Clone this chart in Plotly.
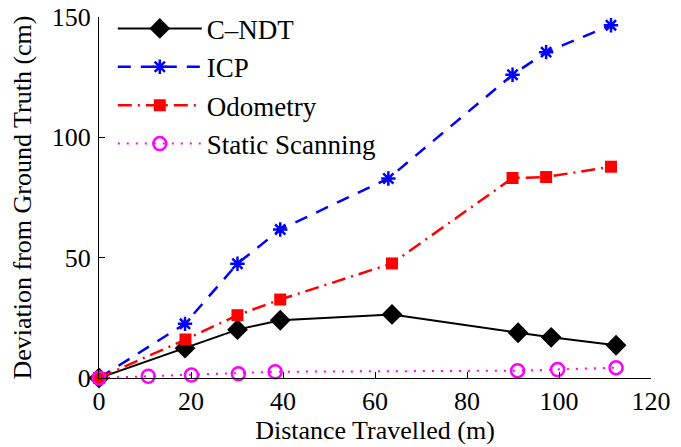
import plotly.graph_objects as go

cndt_x = [0, 18.7, 30.1, 39.4, 63.7, 91.1, 98.3, 112.4]
cndt_y = [0, 12.4, 20.1, 24.0, 26.4, 18.8, 16.9, 13.6]

icp_x = [0, 18.7, 30.1, 39.4, 62.9, 89.9, 97.2, 111.3]
icp_y = [0, 22.5, 47.5, 61.7, 82.9, 126.0, 135.4, 146.6]

odo_x = [0, 18.8, 30.1, 39.4, 63.7, 89.9, 97.2, 111.3]
odo_y = [0, 16.0, 26.1, 32.6, 47.6, 83.1, 83.5, 87.8]

static_x = [0, 10.7, 20.1, 30.3, 38.3, 91.0, 99.7, 112.4]
static_y = [0, 0.7, 1.25, 1.8, 2.6, 3.05, 3.5, 4.3]

x_ticks = [0, 20, 40, 60, 80, 100, 120]
y_ticks = [0, 50, 100, 150]

FONT = "Liberation Serif, Times New Roman, serif"
FS = 26

fig = go.Figure()
fig.add_trace(go.Scatter(
    x=cndt_x, y=cndt_y, name="C\u2013NDT", mode="lines+markers",
    legendgroup="a",
    line=dict(color="black", width=2),
    marker=dict(symbol="diamond", size=16, color="black"),
    cliponaxis=False))
fig.add_trace(go.Scatter(
    x=icp_x, y=icp_y, name="ICP", mode="lines+markers",
    legendgroup="b",
    line=dict(color="#0000ff", width=2.5, dash="13px,10px"),
    marker=dict(symbol="asterisk-open", size=12, color="#0000ff",
                line=dict(color="#0000ff", width=2.5)),
    cliponaxis=False))
fig.add_trace(go.Scatter(
    x=odo_x, y=odo_y, name="Odometry", mode="lines+markers",
    legendgroup="c",
    line=dict(color="#ff0000", width=2.5, dash="14px,6px,2px,6px"),
    marker=dict(symbol="square", size=12, color="#ff0000"),
    cliponaxis=False))
fig.add_trace(go.Scatter(
    x=static_x, y=static_y, name="Static Scanning", mode="lines+markers",
    legendgroup="d",
    line=dict(color="#ff00ff", width=2, dash="2px,7px"),
    marker=dict(symbol="circle-open", size=13, color="#ff00ff",
                line=dict(color="#ff00ff", width=2.5)),
    cliponaxis=False))

fig.update_layout(
    width=681, height=447,
    margin=dict(l=99, r=30, t=17, b=69, autoexpand=False),
    paper_bgcolor="white", plot_bgcolor="white",
    font=dict(family=FONT, size=FS, color="black"),
    showlegend=True,
    legend=dict(x=0.025, y=1.035, xanchor="left", yanchor="top",
                bgcolor="rgba(0,0,0,0)", borderwidth=0,
                traceorder="grouped",
                font=dict(family=FONT, size=27, color="black"),
                itemwidth=84, tracegroupgap=0.3),
)
fig.update_xaxes(
    range=[0, 120], tickvals=x_ticks, ticks="inside", ticklen=6,
    tickcolor="black", showline=True, linecolor="black", linewidth=1,
    showgrid=False, zeroline=False, mirror=False, automargin=False,
    ticklabeloverflow="allow",
    title=dict(text="Distance Travelled (m)", standoff=2,
               font=dict(family=FONT, size=FS)),
    tickfont=dict(family=FONT, size=FS))
fig.update_yaxes(
    range=[0, 150], tickvals=y_ticks, ticks="inside", ticklen=6,
    tickcolor="black", showline=True, linecolor="black", linewidth=1,
    showgrid=False, zeroline=False, mirror=False, automargin=False,
    ticklabelstandoff=2, ticklabeloverflow="allow",
    title=dict(text="Deviation from Ground Truth (cm)", standoff=12,
               font=dict(family=FONT, size=FS)),
    tickfont=dict(family=FONT, size=FS))

fig.write_html("out.html",
               config={"displayModeBar": False},
               post_script="document.body.style.margin='0';")
